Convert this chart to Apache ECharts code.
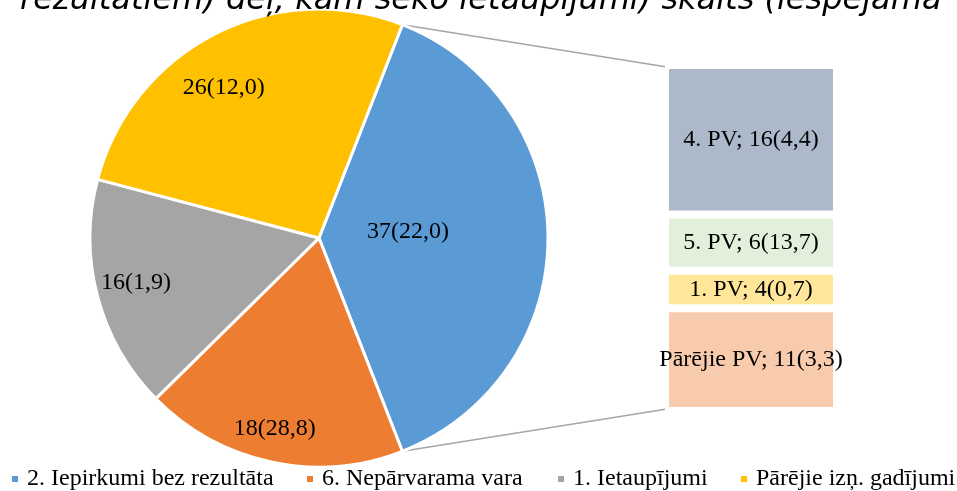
<!DOCTYPE html>
<html><head><meta charset="utf-8">
<script src="https://cdn.jsdelivr.net/npm/echarts@6/dist/echarts.min.js"></script>
<style>html,body{margin:0;padding:0;background:#fff}#c{width:957px;height:491px}</style>
</head><body><div id="c"></div>
<script>
// ---- data ----
const titleText = 'rezultātiem) dēļ, kam seko ietaupījumi) skaits (iespējamā';
const pieNames = ['2. Iepirkumi bez rezultāta', '6. Nepārvarama vara', '1. Ietaupījumi', 'Pārējie izņ. gadījumi'];
const pieValues = [37, 18, 16, 26];
const pieShares = [22.0, 28.8, 1.9, 12.0];
const barNames = ['4. PV', '5. PV', '1. PV', 'Pārējie PV'];
const barValues = [16, 6, 4, 11];
const barShares = [4.4, 13.7, 0.7, 3.3];

// ---- style / layout ----
const pieColors = ['#5B9BD5', '#ED7D31', '#A5A5A5', '#FFC000'];
const barColors = ['#ACB9CA', '#E2EFDA', '#FFE699', '#F8CBAD'];
const CX = 319, CY = 238, R = 229;
const labelRadiusFrac = [0.376, 0.843, 0.81, 0.766];
const labelAngleShift = [-4, 1, 1, -5.5];   // degrees, clockwise
const BAR = { left: 665, top: 65, width: 172, height: 346, border: 4 };
const legendLefts = [12, 307, 558, 741];
const FONT = '"Liberation Serif","Times New Roman",serif';

const fmt = x => x.toFixed(1).replace('.', ',');
const total = pieValues.reduce((a, b) => a + b, 0);
const barTotal = barValues.reduce((a, b) => a + b, 0);
const startAngle = 180 * pieValues[0] / total;
const mids = [];
let acc = 0;
pieValues.forEach(v => {
  const a0 = startAngle - 360 * acc / total;
  const a1 = a0 - 360 * v / total;
  mids.push((a0 + a1) / 2 * Math.PI / 180);
  acc += v;
});
const aStart = startAngle * Math.PI / 180;
const aEnd = (startAngle - 360 * pieValues[0] / total) * Math.PI / 180;
const p1 = [CX + R * Math.cos(aStart), CY - R * Math.sin(aStart)];
const p2 = [CX + R * Math.cos(aEnd), CY - R * Math.sin(aEnd)];
const q1 = [BAR.left + BAR.border / 2, BAR.top + BAR.border / 2];
const q2 = [BAR.left + BAR.border / 2, BAR.top + BAR.height - BAR.border / 2];

const chart = echarts.init(document.getElementById('c'), null, { renderer: 'canvas' });

const series = [{
  type: 'pie',
  center: [CX, CY],
  radius: R,
  startAngle: startAngle,
  clockwise: true,
  animation: false,
  silent: true,
  avoidLabelOverlap: false,
  itemStyle: { borderColor: '#fff', borderWidth: 3 },
  label: {
    show: true, position: 'inside', color: '#000', fontFamily: FONT, fontSize: 24,
    formatter: p => pieValues[p.dataIndex] + '(' + fmt(pieShares[p.dataIndex]) + ')'
  },
  labelLine: { show: false },
  labelLayout: function (p) {
    const i = p.dataIndex;
    const m = mids[i];
    const a = m - labelAngleShift[i] * Math.PI / 180;
    const d = labelRadiusFrac[i] * R;
    const h = R / 2;
    return { dx: d * Math.cos(a) - h * Math.cos(m), dy: -d * Math.sin(a) + h * Math.sin(m) };
  },
  data: pieNames.map((n, i) => ({ name: n, value: pieValues[i], itemStyle: { color: pieColors[i] } }))
}];

barNames.forEach((n, i) => {
  series.push({
    type: 'bar', name: n, stack: 'pv', barWidth: '100%',
    animation: false, silent: true,
    itemStyle: { color: barColors[i], borderColor: '#fff', borderWidth: BAR.border },
    label: {
      show: true, position: 'inside', color: '#000', fontFamily: FONT, fontSize: 24,
      formatter: () => n + '; ' + barValues[i] + '(' + fmt(barShares[i]) + ')'
    },
    data: [barValues[i]]
  });
});

const legends = pieNames.map((n, i) => ({
  data: [n], left: legendLefts[i], top: 467, padding: 0,
  icon: 'rect', itemWidth: 6, itemHeight: 6, selectedMode: false,
  itemStyle: { borderWidth: 0 },
  textStyle: { fontFamily: FONT, fontSize: 24, color: '#000', padding: [0, 0, 0, 4], lineHeight: 24 }
}));

chart.setOption({
  backgroundColor: '#fff',
  animation: false,
  legend: legends,
  grid: { left: BAR.left, top: BAR.top, width: BAR.width, height: BAR.height, containLabel: false },
  xAxis: { type: 'category', data: [''], show: false },
  yAxis: { type: 'value', min: 0, max: barTotal, inverse: true, show: false },
  graphic: [
    { type: 'line', shape: { x1: p1[0], y1: p1[1], x2: q1[0], y2: q1[1] }, style: { stroke: '#A6A6A6', lineWidth: 1.5 }, z: 0 },
    { type: 'line', shape: { x1: p2[0], y1: p2[1], x2: q2[0], y2: q2[1] }, style: { stroke: '#A6A6A6', lineWidth: 1.5 }, z: 0 },
    { type: 'text', x: 20, y: 1, style: { text: titleText, font: 'italic 32px "DejaVu Sans"', fill: '#000', verticalAlign: 'middle' }, z: 10 }
  ],
  series: series
});
</script></body></html>
